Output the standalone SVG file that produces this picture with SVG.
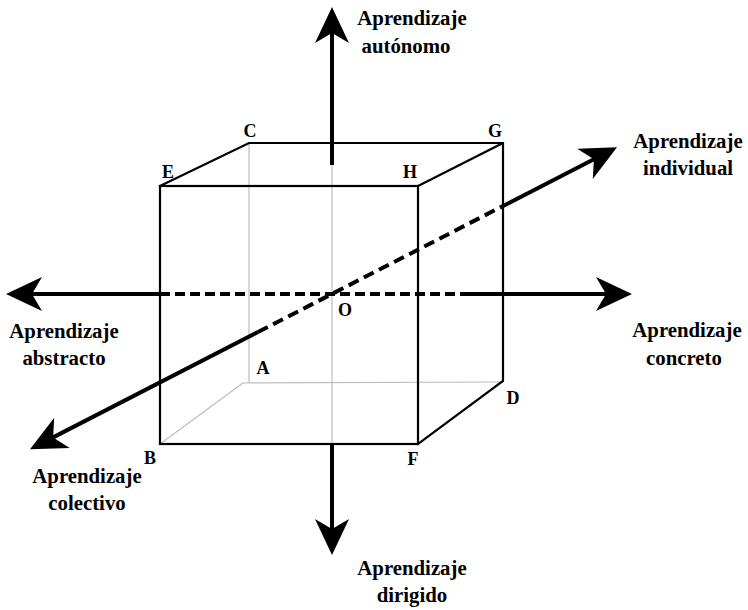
<svg xmlns="http://www.w3.org/2000/svg" width="748" height="610" viewBox="0 0 748 610">
<defs>
<style>
.edge{stroke:#000;stroke-width:2.2;fill:none;stroke-linecap:square}
.hid{stroke:#bdbdbd;stroke-width:1.2;fill:none}
.ax{stroke:#000;stroke-width:4;fill:none}
.dh{stroke-dasharray:10 5}
.dd{stroke-dasharray:11 6}
text{font-family:"Liberation Serif","Times New Roman",serif;font-weight:bold;fill:#000}
.lbl{font-size:20.8px;text-anchor:middle}
.pt{font-size:18px;text-anchor:middle}
</style>
<marker id="arr" markerUnits="userSpaceOnUse" orient="auto" refX="0" refY="0" markerWidth="80" markerHeight="80" viewBox="-40 -40 80 80" overflow="visible">
<path d="M26,0 L-10,-17 L0,0 L-10,17 Z" fill="#000"/>
</marker>
</defs>
<rect width="748" height="610" fill="#fff"/>
<g id="cube">
<line class="hid" x1="249" y1="143" x2="249" y2="383"/>
<line class="hid" x1="243" y1="383" x2="503" y2="382"/>
<line class="hid" x1="160" y1="444" x2="243" y2="383"/>
<line class="hid" x1="332" y1="143" x2="332" y2="444"/>
<rect class="edge" x="160" y="186" width="258" height="258"/>
<polyline class="edge" points="160,186 249,143 503,143 418,186"/>
<polyline class="edge" points="503,143 503,381 418,444"/>
</g>
<g id="connectors">
<line class="ax" x1="332" y1="165" x2="332" y2="33" marker-end="url(#arr)"/>
<line class="ax" x1="332" y1="444" x2="332" y2="529" marker-end="url(#arr)"/>
<line class="ax" x1="160" y1="294" x2="32" y2="294" marker-end="url(#arr)"/>
<line class="ax dh" x1="160" y1="294" x2="462" y2="294"/>
<line class="ax" x1="462" y1="294" x2="606" y2="294" marker-end="url(#arr)"/>
<line class="ax" x1="258" y1="332" x2="53.1" y2="437.4" marker-end="url(#arr)"/>
<line class="ax dd" x1="258" y1="332" x2="503" y2="206"/>
<line class="ax" x1="503" y1="206" x2="593.9" y2="159.2" marker-end="url(#arr)"/>
</g>
<g id="label-autonomo">
<text class="lbl" x="412" y="25">Aprendizaje</text>
<text class="lbl" x="406" y="53">autónomo</text>
</g>
<g id="label-individual">
<text class="lbl" x="688" y="148">Aprendizaje</text>
<text class="lbl" x="688" y="175">individual</text>
</g>
<g id="label-abstracto">
<text class="lbl" x="64" y="338">Aprendizaje</text>
<text class="lbl" x="64" y="365">abstracto</text>
</g>
<g id="label-concreto">
<text class="lbl" x="687" y="337">Aprendizaje</text>
<text class="lbl" x="684" y="365">concreto</text>
</g>
<g id="label-colectivo">
<text class="lbl" x="87" y="483">Aprendizaje</text>
<text class="lbl" x="87" y="510">colectivo</text>
</g>
<g id="label-dirigido">
<text class="lbl" x="412" y="575">Aprendizaje</text>
<text class="lbl" x="412" y="602">dirigido</text>
</g>
<g id="points">
<text class="pt" x="250" y="137">C</text>
<text class="pt" x="495" y="137">G</text>
<text class="pt" x="168" y="178">E</text>
<text class="pt" x="410" y="178">H</text>
<text class="pt" x="263" y="374">A</text>
<text class="pt" x="513" y="404">D</text>
<text class="pt" x="150" y="464">B</text>
<text class="pt" x="413" y="465">F</text>
<text class="pt" x="345" y="316">O</text>
</g>
</svg>
